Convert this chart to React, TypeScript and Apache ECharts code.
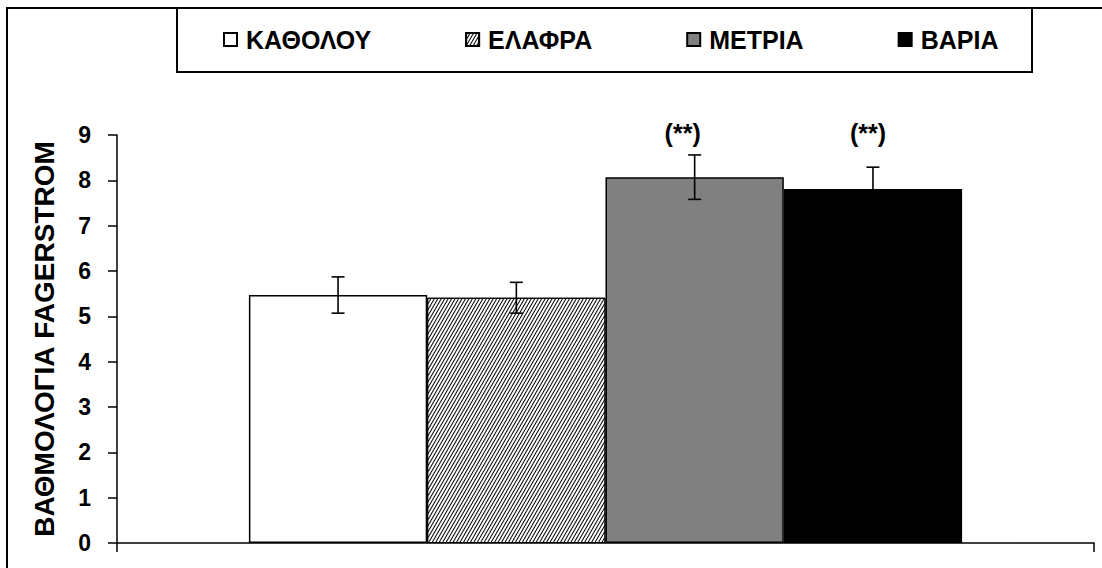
import React, { useEffect, useRef } from "react";
import * as echarts from "echarts";

const categories = ["ΒΑΘΜΟΛΟΓΙΑ"];
const seriesNames = ["ΚΑΘΟΛΟΥ", "ΕΛΑΦΡΑ", "ΜΕΤΡΙΑ", "ΒΑΡΙΑ"];
const meanValues = [5.47, 5.41, 8.07, 7.81];
const errorValues = [0.4, 0.34, 0.49, 0.48];
const sigLabels = ["", "", "(**)", "(**)"];
const yTicks = [0, 1, 2, 3, 4, 5, 6, 7, 8, 9];
const yAxisTitle = "ΒΑΘΜΟΛΟΓΙΑ FAGERSTROM";

const FONT = "'Liberation Sans', Arial, sans-serif";
const CAT_GAP = 0.27;
const SIG_LEVEL = 9.05;
const SIG_DX = [0, 0, -12, -5];

export default function App() {
  const ref = useRef<HTMLDivElement>(null);
  useEffect(() => {
    document.body.style.margin = "0";
    if (!ref.current) return;
    const chart = echarts.init(ref.current, undefined, { renderer: "svg" });

    const styles = [
      { color: "#ffffff", borderColor: "#000", borderWidth: 1.5 },
      {
        color: "#ffffff",
        borderColor: "#000",
        borderWidth: 1,
        decal: {
          symbol: "rect",
          symbolSize: 1,
          dashArrayX: [1, 0],
          dashArrayY: [1, 2],
          rotation: -Math.PI / 3,
          color: "#000",
          backgroundColor: "#fff",
        },
      },
      { color: "#808080", borderColor: "#000", borderWidth: 1.5 },
      { color: "#000000", borderColor: "#000", borderWidth: 1.5 },
    ];

    const barSeries = seriesNames.map((name, i) => ({
      name,
      type: "bar",
      data: [meanValues[i]],
      barGap: "0%",
      barCategoryGap: CAT_GAP * 100 + "%",
      itemStyle: styles[i],
      z: 2,
    }));

    const errData = meanValues.map((v, i) => [0, v, errorValues[i], i]);

    const errSeries = {
      type: "custom",
      name: "err",
      data: errData,
      encode: { x: 0, y: 1 },
      z: 10,
      renderItem: (params: any, api: any) => {
        const v = api.value(1);
        const e = api.value(2);
        const i = api.value(3);
        const center = api.coord([0, v]);
        const band = api.size([1, 0])[0];
        const barW = (band * (1 - CAT_GAP)) / seriesNames.length;
        const x = center[0] + (i - (seriesNames.length - 1) / 2) * barW;
        const top = api.coord([0, v + e])[1];
        const bot = api.coord([0, v - e])[1];
        const cap = 6.5;
        const ls = { stroke: "#000", lineWidth: 1.6 };
        const children: any[] = [
          { type: "line", shape: { x1: x, y1: top, x2: x, y2: bot }, style: ls },
          { type: "line", shape: { x1: x - cap, y1: top, x2: x + cap, y2: top }, style: ls },
          { type: "line", shape: { x1: x - cap, y1: bot, x2: x + cap, y2: bot }, style: ls },
        ];
        if (sigLabels[i]) {
          const ly = api.coord([0, SIG_LEVEL])[1];
          children.push({
            type: "text",
            style: {
              text: sigLabels[i],
              x: x + SIG_DX[i],
              y: ly,
              align: "center",
              verticalAlign: "middle",
              font: `bold 25px ${FONT}`,
              fill: "#000",
            },
          });
        }
        return { type: "group", children };
      },
    };

    const option: any = {
      animation: false,
      backgroundColor: "#fff",
      textStyle: { fontFamily: FONT },
      grid: { left: 117, right: 8, top: 135, bottom: 25, containLabel: false },
      legend: {
        data: seriesNames,
        left: 223,
        top: 27,
        padding: 0,
        itemWidth: 13,
        itemHeight: 13,
        itemGap: 94,
        icon: "rect",
        textStyle: {
          fontFamily: FONT,
          fontWeight: "bold",
          fontSize: 25,
          lineHeight: 25,
          color: "#000",
          padding: [0, 0, 0, 4],
        },
        selectedMode: false,
      },
      xAxis: {
        type: "category",
        data: categories,
        axisLine: { lineStyle: { color: "#000", width: 1.5 } },
        axisTick: { show: true, length: 9, lineStyle: { color: "#000", width: 1.5 } },
        axisLabel: { show: false },
      },
      yAxis: {
        type: "value",
        min: yTicks[0],
        max: yTicks[yTicks.length - 1],
        interval: 1,
        axisLine: { show: true, lineStyle: { color: "#000", width: 1.5 } },
        axisTick: { show: true, length: 9, lineStyle: { color: "#000", width: 1.5 } },
        splitLine: { show: false },
        axisLabel: {
          margin: 26,
          fontFamily: FONT,
          fontWeight: "bold",
          fontSize: 23,
          color: "#000",
        },
        name: yAxisTitle,
        nameLocation: "middle",
        nameGap: 59,
        nameTextStyle: {
          fontFamily: FONT,
          fontWeight: "bold",
          fontSize: 28,
          color: "#000",
        },
      },
      graphic: [
        {
          type: "rect",
          shape: { x: 7, y: 8, width: 1200, height: 700 },
          style: { fill: "none", stroke: "#000", lineWidth: 2 },
          silent: true,
          z: 100,
        },
        {
          type: "rect",
          shape: { x: 177, y: 8, width: 855, height: 64 },
          style: { fill: "none", stroke: "#000", lineWidth: 2 },
          silent: true,
          z: 100,
        },
      ],
      series: [...barSeries, errSeries],
    };
    chart.setOption(option);
    return () => chart.dispose();
  }, []);
  return <div ref={ref} style={{ width: 1102, height: 568 }} />;
}
